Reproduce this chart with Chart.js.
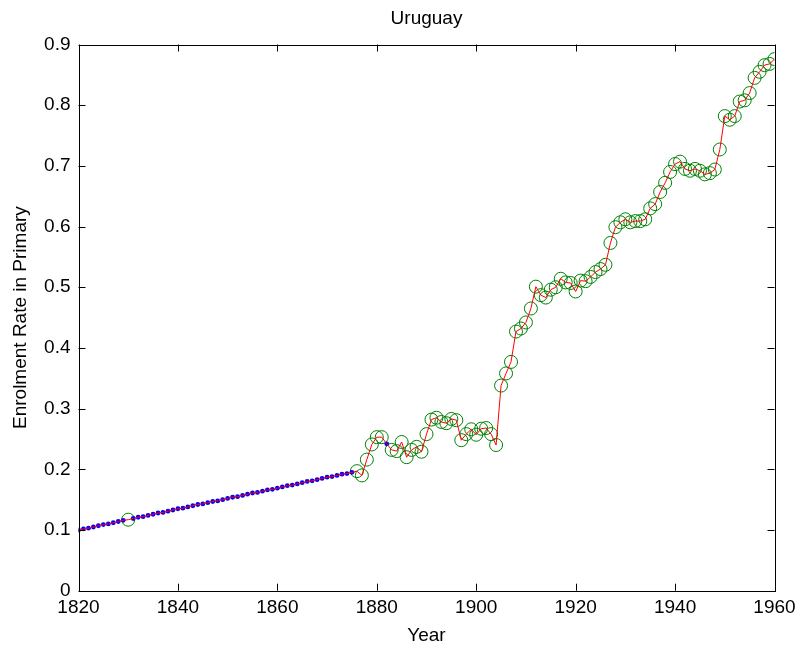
<!DOCTYPE html>
<html lang="en">
<head>
    <meta charset="UTF-8">
    <title>Uruguay - Enrolment Rate in Primary</title>
    <script src="https://cdn.jsdelivr.net/npm/chart.js"></script>
    <style>
        body {
            margin: 0;
            background: #fff;
        }
        #plot {
            display: block;
        }
    </style>
</head>
<body>
    <canvas id="plot" width="804" height="651"></canvas>

    <script>
        // Years filled in (blue dots) and their values
        const fillYears = [
            1820, 1821, 1822, 1823, 1824, 1825, 1826, 1827, 1828, 1829,
            1831, 1832, 1833, 1834, 1835, 1836, 1837, 1838, 1839, 1840,
            1841, 1842, 1843, 1844, 1845, 1846, 1847, 1848, 1849, 1850,
            1851, 1852, 1853, 1854, 1855, 1856, 1857, 1858, 1859, 1860,
            1861, 1862, 1863, 1864, 1865, 1866, 1867, 1868, 1869, 1870,
            1871, 1872, 1873, 1874, 1875, 1882
        ];
        const fillRate = [
            0.100, 0.102, 0.103, 0.105, 0.107, 0.109, 0.110, 0.112, 0.114, 0.116,
            0.119, 0.121, 0.122, 0.124, 0.126, 0.128, 0.129, 0.131, 0.133, 0.135,
            0.136, 0.138, 0.140, 0.142, 0.143, 0.145, 0.147, 0.148, 0.150, 0.152,
            0.154, 0.155, 0.157, 0.159, 0.161, 0.162, 0.164, 0.166, 0.167, 0.169,
            0.171, 0.173, 0.174, 0.176, 0.178, 0.180, 0.181, 0.183, 0.185, 0.187,
            0.188, 0.190, 0.192, 0.193, 0.195, 0.242
        ];

        // Observed years (green circles) and their values
        const obsYears = [
            1830, 1876, 1877, 1878, 1879, 1880, 1881, 1883, 1884, 1885,
            1886, 1887, 1888, 1889, 1890, 1891, 1892, 1893, 1894, 1895,
            1896, 1897, 1898, 1899, 1900, 1901, 1902, 1903, 1904, 1905,
            1906, 1907, 1908, 1909, 1910, 1911, 1912, 1913, 1914, 1915,
            1916, 1917, 1918, 1919, 1920, 1921, 1922, 1923, 1924, 1925,
            1926, 1927, 1928, 1929, 1930, 1931, 1932, 1933, 1934, 1935,
            1936, 1937, 1938, 1939, 1940, 1941, 1942, 1943, 1944, 1945,
            1946, 1947, 1948, 1949, 1950, 1951, 1952, 1953, 1954, 1955,
            1956, 1957, 1958, 1959, 1960
        ];
        const obsRate = [
            0.117, 0.197, 0.190, 0.216, 0.241, 0.253, 0.253, 0.232, 0.230, 0.245,
            0.220, 0.232, 0.237, 0.229, 0.258, 0.282, 0.285, 0.278, 0.276, 0.283,
            0.281, 0.248, 0.258, 0.266, 0.257, 0.267, 0.268, 0.258, 0.240, 0.338,
            0.358, 0.377, 0.427, 0.432, 0.442, 0.465, 0.501, 0.487, 0.483, 0.496,
            0.500, 0.514, 0.508, 0.507, 0.493, 0.511, 0.510, 0.517, 0.525, 0.530,
            0.537, 0.573, 0.599, 0.607, 0.612, 0.607, 0.609, 0.609, 0.612, 0.630,
            0.637, 0.657, 0.672, 0.690, 0.703, 0.707, 0.695, 0.692, 0.695, 0.692,
            0.686, 0.688, 0.694, 0.727, 0.782, 0.776, 0.782, 0.806, 0.808, 0.820,
            0.845, 0.855, 0.866, 0.868, 0.876
        ];

        const xTicks = [1820, 1840, 1860, 1880, 1900, 1920, 1940, 1960];
        const yTicks = [0, 0.1, 0.2, 0.3, 0.4, 0.5, 0.6, 0.7, 0.8, 0.9];

        const FONT = "'Liberation Sans', Arial, Helvetica, sans-serif";

        // red line goes through every point, filled and observed
        const allPoints = fillYears.map((x, i) => ({ x: x, y: fillRate[i] }))
            .concat(obsYears.map((x, i) => ({ x: x, y: obsRate[i] })))
            .sort((a, b) => a.x - b.x);

        // box round the axes with inward ticks, and the title over the plot area
        const boxTicks = {
            id: "boxTicks",
            afterDatasetsDraw(chart) {
                const { ctx, chartArea: a, scales } = chart;
                const len = 7;
                ctx.save();
                ctx.strokeStyle = "#000";
                ctx.lineWidth = 1;
                ctx.beginPath();
                xTicks.forEach(v => {
                    const px = Math.round(scales.x.getPixelForValue(v)) + 0.5;
                    ctx.moveTo(px, a.bottom);
                    ctx.lineTo(px, a.bottom - len);
                    ctx.moveTo(px, a.top);
                    ctx.lineTo(px, a.top + len);
                });
                yTicks.forEach(v => {
                    const py = Math.round(scales.y.getPixelForValue(v)) + 0.5;
                    ctx.moveTo(a.left, py);
                    ctx.lineTo(a.left + len, py);
                    ctx.moveTo(a.right, py);
                    ctx.lineTo(a.right - len, py);
                });
                ctx.stroke();
                ctx.strokeRect(Math.round(a.left) + 0.5, Math.round(a.top) + 0.5,
                    Math.round(a.right - a.left), Math.round(a.bottom - a.top));

                ctx.fillStyle = "#000";
                ctx.font = "19px " + FONT;
                ctx.textAlign = "center";
                ctx.textBaseline = "middle";
                ctx.fillText("Uruguay", (a.left + a.right) / 2, 19);
                ctx.restore();
            }
        };

        new Chart(document.getElementById("plot"), {
            type: "scatter",
            data: {
                datasets: [
                    {
                        label: "rate",
                        data: allPoints,
                        showLine: true,
                        borderColor: "#ff0000",
                        borderWidth: 1,
                        pointRadius: 0,
                        order: 0
                    },
                    {
                        label: "filled",
                        data: fillYears.map((x, i) => ({ x: x, y: fillRate[i] })),
                        showLine: false,
                        pointRadius: 2.4,
                        backgroundColor: "#0000ff",
                        borderColor: "#0000ff",
                        borderWidth: 0,
                        order: 1
                    },
                    {
                        label: "observed",
                        data: obsYears.map((x, i) => ({ x: x, y: obsRate[i] })),
                        showLine: false,
                        pointRadius: 6.5,
                        pointStyle: "circle",
                        backgroundColor: "rgba(0,0,0,0)",
                        borderColor: "#008000",
                        borderWidth: 1,
                        order: 2
                    }
                ]
            },
            options: {
                responsive: false,
                animation: false,
                layout: {
                    padding: { left: 0, right: 29.5, top: 44.5, bottom: 0 }
                },
                plugins: {
                    legend: { display: false },
                    tooltip: { enabled: false },
                    title: { display: false }
                },
                scales: {
                    x: {
                        type: "linear",
                        min: 1820,
                        max: 1960,
                        afterBuildTicks: s => { s.ticks = xTicks.map(v => ({ value: v })); },
                        afterFit: s => { s.height = 60.3; },
                        grid: { display: false, drawTicks: false },
                        border: { display: false },
                        ticks: {
                            color: "#000",
                            padding: 6,
                            maxRotation: 0,
                            font: { family: FONT, size: 19 },
                            callback: v => String(v)
                        },
                        title: {
                            display: true,
                            text: "Year",
                            color: "#000",
                            font: { family: FONT, size: 19 },
                            padding: { top: 0, bottom: 4 }
                        }
                    },
                    y: {
                        min: 0,
                        max: 0.9,
                        afterBuildTicks: s => { s.ticks = yTicks.map(v => ({ value: v })); },
                        afterFit: s => { s.width = 78.5; },
                        grid: { display: false, drawTicks: false },
                        border: { display: false },
                        ticks: {
                            color: "#000",
                            padding: 8,
                            font: { family: FONT, size: 19 },
                            callback: v => v === 0 ? "0" : v.toFixed(1)
                        },
                        title: {
                            display: true,
                            text: "Enrolment Rate in Primary",
                            color: "#000",
                            font: { family: FONT, size: 19 },
                            padding: { top: 9, bottom: 0 }
                        }
                    }
                }
            },
            plugins: [boxTicks]
        });
    </script>
</body>
</html>
